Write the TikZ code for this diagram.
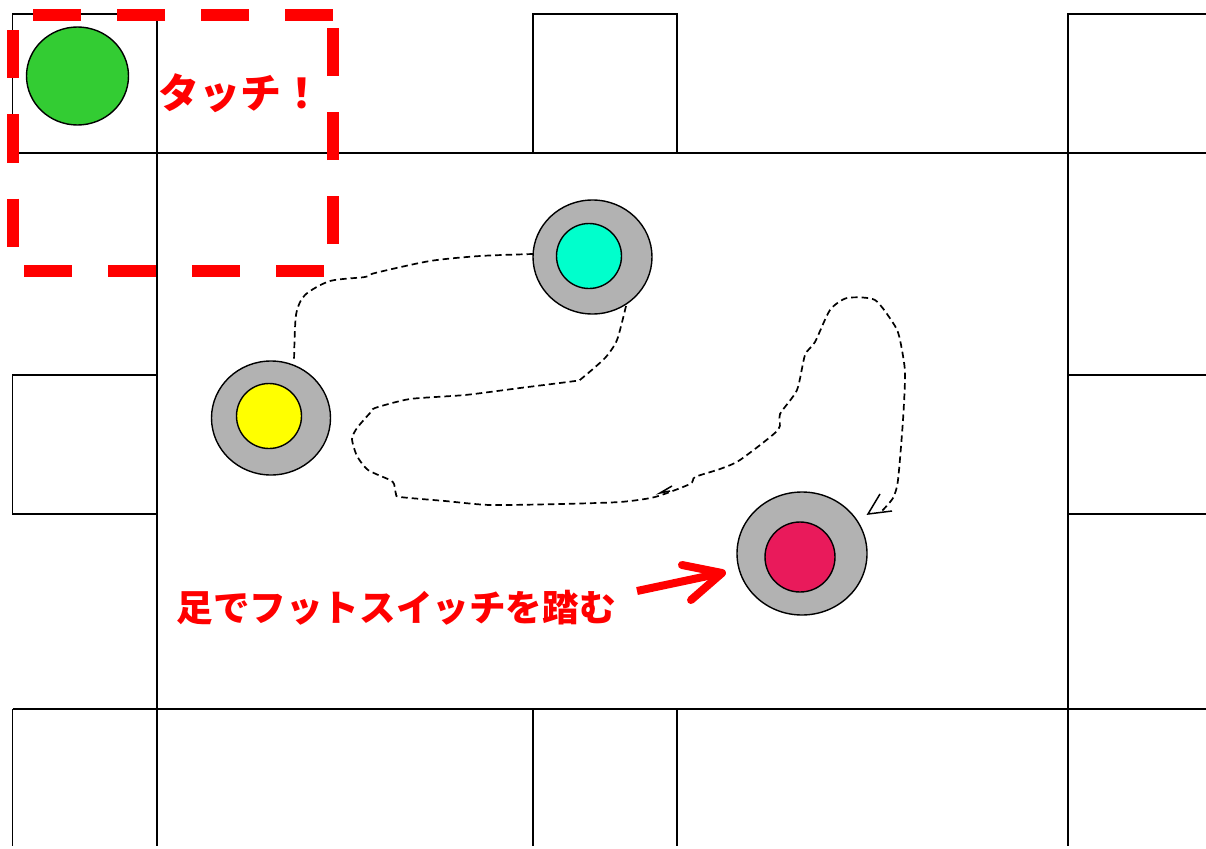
\documentclass[tikz,border=0pt]{standalone}
\usepackage{fontspec}
\newfontfamily\cjk{Noto Sans CJK JP}
\usetikzlibrary{shapes.geometric}
\definecolor{ringgray}{HTML}{B2B2B2}
\definecolor{dotgreen}{HTML}{33CC33}
\definecolor{dotcyan}{HTML}{00FFCC}
\definecolor{dotpink}{HTML}{E91A5B}
\definecolor{dotyellow}{HTML}{FFFF00}
\definecolor{boxred}{HTML}{FF0000}
\tikzset{
  frame/.style={draw=black,line width=1.5pt,fill=white},
  wire/.style={draw=black,line width=1.5pt,line cap=square},
  blob/.style={ellipse,draw=black,line width=1.4pt,inner sep=0pt,outer sep=0pt},
  route/.style={draw=black,line width=1.7pt,dash pattern=on 6.5pt off 4pt},
  tipline/.style={draw=black,line width=1.5pt},
  callout/.style={text=boxred,font=\cjk\bfseries,inner sep=0pt,anchor=center},
  redbox/.style={draw=boxred,line width=12pt,dash pattern=on 48pt off 36pt},
  redarrow/.style={draw=boxred,line width=8pt,line cap=round,line join=round}
}
\begin{document}
\begin{tikzpicture}[x=1pt,y=-1pt]
\useasboundingbox (0,0) rectangle (1206,848);
\fill[white] (0,0) rectangle (1206,848);
% boxes
\path[frame] (157,153) rectangle (1068,709);
\path[wire] (12.5,153) -- (157,153) (1068,153) -- (1206,153);
\path[wire] (157,153) |- (12.5,14) -- (12.5,153);
\path[wire] (533,153) |- (677,14) -- (677,153);
\path[wire] (1206,14) -| (1068,153);
\path[wire] (157,375) -| (12.5,514) -- (157,514);
\path[wire] (1206,375) -- (1068,375) (1206,514) -- (1068,514);
\path[wire] (12.5,709) -- (157,709) (1068,709) -- (1206,709);
\path[wire] (12.5,709) -- (12.5,846) (157,709) -- (157,846);
\path[wire] (533,709) -- (533,846) (677,709) -- (677,846);
\path[wire] (1068,709) -- (1068,846);
% circles
\node[blob,fill=dotgreen,minimum width=102pt,minimum height=98pt] (touch) at (77.5,76) {};
\node[blob,fill=ringgray,minimum width=119pt,minimum height=114pt] (ringa) at (592.5,257) {};
\node[blob,fill=dotcyan,minimum width=65pt,minimum height=65pt] (dota) at (589,256) {};
\node[blob,fill=ringgray,minimum width=119pt,minimum height=114pt] (ringb) at (271,418) {};
\node[blob,fill=dotyellow,minimum width=65pt,minimum height=65pt] (dotb) at (269,416) {};
\node[blob,fill=ringgray,minimum width=130pt,minimum height=123pt] (ringc) at (802,553.5) {};
\node[blob,fill=dotpink,minimum width=70pt,minimum height=70pt] (dotc) at (800,557) {};
% routes
\coordinate (stra) at (626,306);
\coordinate (endb) at (294,362);
\coordinate (enda) at (533,254);
\coordinate (tip) at (868,514);
\coordinate (tipmid) at (660,493);
\draw[route] plot[smooth,tension=0.45] coordinates {(enda) (480,256) (430,261) (375,273) (365,277) (330,281) (305,295) (296,315) (endb)};
\draw[route] plot[smooth,tension=0.4] coordinates {(stra) (617,340) (605,358) (581,379) (575,381) (520,388) (465,395) (410,399) (375,408) (370,413) (357,428) (352,439) (357,456) (368,470) (390,480) (394,484) (396,494) (400,497) (445,501) (490,505) (560,504) (620,502) (655,497) (690,484) (695,477) (720,469) (740,460) (778,430) (780,414) (797,390) (805,355) (815,342) (830,310) (847,298) (875,300) (895,326) (900,340) (905,372) (903,420) (898,480) (893,498) (881,512)};
\draw[tipline] (880,494) -- (tip) -- (892,511);
\draw[tipline] (672,486) -- (tipmid) -- (670,491);
% red
\coordinate (ra) at (333,15);
\coordinate (rb) at (12.5,15);
\coordinate (rc) at (12.5,271);
\coordinate (rd) at (333,271);
\draw[redbox] (ra) -- (rb) -- (rc) -- (rd) -- cycle;
\node[callout,font=\cjk\bfseries\fontsize{41}{41}\selectfont] (lbla) at (240,93) {タッチ！};
\node[callout,font=\cjk\bfseries\fontsize{36.6}{37}\selectfont] (lblb) at (396,608) {足でフットスイッチを踏む};
\coordinate (arrs) at (637,591);
\coordinate (arrt) at (722,573);
\draw[redarrow,line cap=butt] (arrs) -- (arrt);
\draw[redarrow] (682,565) -- (arrt) -- (691,600);
\end{tikzpicture}
\end{document}
